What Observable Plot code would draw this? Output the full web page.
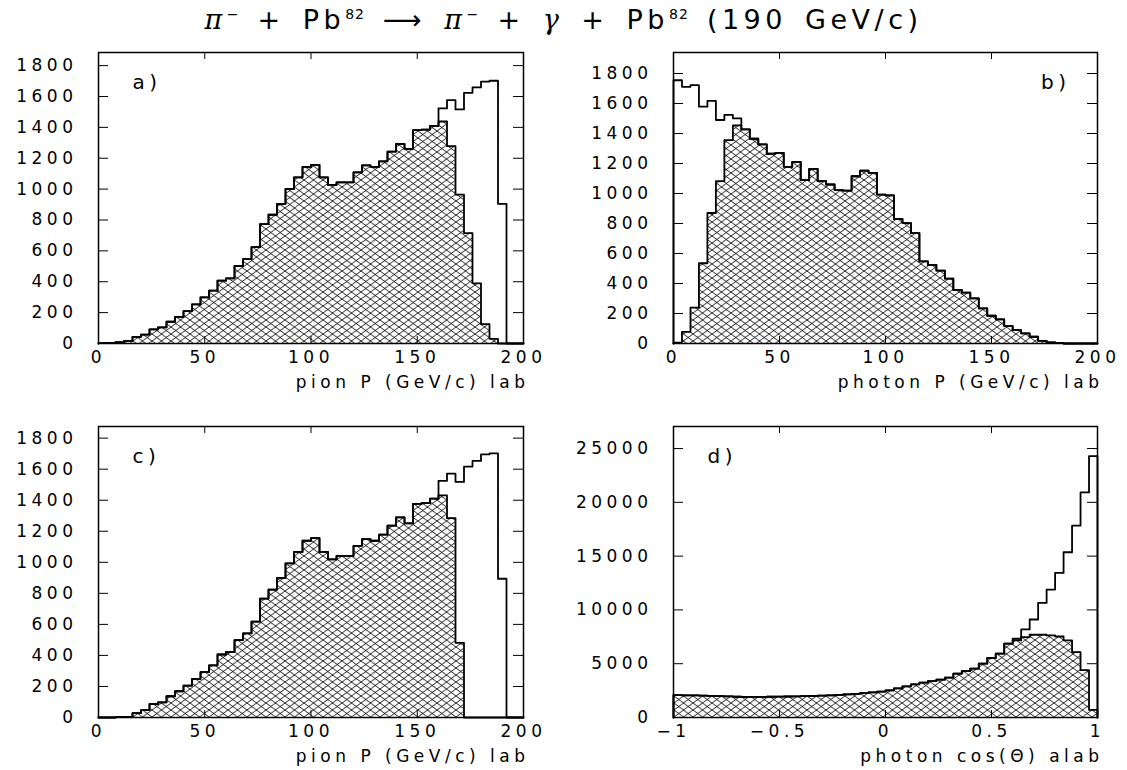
<!DOCTYPE html>
<html><head><meta charset="utf-8">
<script src="https://cdn.jsdelivr.net/npm/d3@7"></script>
<script src="https://cdn.jsdelivr.net/npm/@observablehq/plot@0.6"></script>
<style>
body{margin:0;background:#fff;}
#wrap{position:relative;width:1127px;height:770px;overflow:hidden;background:#fff;font-family:"DejaVu Sans",sans-serif;}
#title{position:absolute;left:0;width:1127px;top:4px;text-align:center;font-size:27px;letter-spacing:4.5px;word-spacing:5px;white-space:nowrap;color:#000;}
#title i{font-family:"DejaVu Serif",serif;font-style:italic;}
#title sup{font-size:14px;letter-spacing:1px;vertical-align:10px;}
.panel{position:absolute;}
</style></head>
<body>
<div id="wrap">
<svg width="0" height="0" style="position:absolute;left:0;top:0">
<defs><pattern id="hatch" patternUnits="userSpaceOnUse" width="9.5" height="7">
<path d="M-0.5,-0.37L10,7.37M-0.5,7.37L10,-0.37" stroke="#000" stroke-width="0.85" fill="none"/>
</pattern></defs></svg>
<div id="title"><i>π</i><sup>−</sup> + Pb<sup>82</sup> ⟶ <i>π</i><sup>−</sup> + <i>γ</i> + Pb<sup>82</sup> (190 GeV/c)</div>
<div id="pa" class="panel"></div><div id="pb" class="panel"></div>
<div id="pc" class="panel"></div><div id="pd" class="panel"></div>
</div>
<script>
// ---- data (4 GeV/c bins from 0 to 200; 0.04 bins from -1 to 1) ----
const momentumEdges = d3.range(0, 201, 4);
const cosEdges = d3.range(51).map(i => -1 + i * 0.04);

const pionAllA = [2,4,8,17,43,58,91,104,141,173,210,253,299,342,407,422,502,546,624,773,834,905,1001,1076,1144,1157,1076,1027,1044,1044,1109,1154,1144,1180,1243,1293,1261,1382,1386,1410,1523,1577,1516,1624,1659,1696,1702,905,0,0];
const pionCutA = [2,4,8,17,43,58,91,104,141,173,210,253,299,342,407,422,502,546,624,773,834,905,1001,1076,1144,1157,1076,1027,1044,1044,1109,1154,1144,1180,1243,1293,1261,1382,1386,1410,1438,1278,964,715,390,126,30,0,0,0];

const photonAllB = [1755,1711,1722,1579,1617,1490,1524,1501,1428,1365,1327,1265,1271,1178,1211,1089,1164,1082,1060,1022,1019,1115,1153,1138,993,988,830,803,736,547,524,486,433,357,339,301,234,185,161,116,89,67,45,18,7,4,0,0,0,0];
const photonCutB = [5,78,239,535,870,1082,1356,1454,1428,1365,1327,1265,1271,1178,1211,1089,1164,1082,1060,1022,1019,1115,1153,1138,993,988,830,803,736,547,524,486,433,357,339,301,234,185,161,116,89,67,45,18,7,4,0,0,0,0];

const pionAllC = [0,0,4,4,28,48,87,98,137,169,206,249,293,336,406,423,499,542,618,766,824,900,993,1067,1139,1156,1067,1019,1041,1041,1106,1149,1139,1178,1236,1290,1251,1377,1381,1410,1525,1572,1518,1616,1653,1696,1702,894,0,0];
const pionCutC = [0,0,4,4,28,48,87,98,137,169,206,249,293,336,406,423,499,542,618,766,824,900,993,1067,1139,1156,1067,1019,1041,1041,1106,1149,1139,1178,1236,1290,1251,1377,1381,1410,1431,1284,481,0,0,0,0,0,0,0];

const cosAllD = [2080,2060,2050,2030,2010,1990,1960,1930,1920,1910,1920,1930,1940,1950,1960,1980,2000,2030,2060,2100,2150,2200,2260,2330,2400,2530,2710,2900,3080,3240,3390,3520,3700,4070,4320,4540,5000,5530,5930,6860,7320,8190,9110,10660,11890,13440,15360,17830,20920,24300];
const cosCutD = [2080,2060,2050,2030,2010,1990,1960,1930,1920,1910,1920,1930,1940,1950,1960,1980,2000,2030,2060,2100,2150,2200,2260,2330,2400,2530,2710,2900,3080,3240,3390,3520,3700,4070,4320,4540,5000,5530,5930,6860,7165,7473,7690,7690,7630,7530,7165,6082,4400,700];

const momentumTicks = [0, 50, 100, 150, 200];
const cosTicks = [-1, -0.5, 0, 0.5, 1];
const countTicks = [0,200,400,600,800,1000,1200,1400,1600,1800];
const bigCountTicks = [0,5000,10000,15000,20000,25000];
const panelTags = ["a)", "b)", "c)", "d)"];
const axisTitles = ["pion P (GeV/c) lab", "photon P (GeV/c) lab", "pion P (GeV/c) lab", "photon cos(Θ) alab"];

// ---- helpers ----
const fmt = d => (d < 0 ? "−" : "") + String(Math.abs(d));

function stepPoints(edges, vals) {
  const pts = [{x: edges[0], y: 0}];
  vals.forEach((v, i) => pts.push({x: edges[i], y: v}));
  pts.push({x: edges[vals.length], y: vals[vals.length - 1]});
  pts.push({x: edges[vals.length], y: 0});
  return pts;
}

function panel(o) {
  const fw = o.width - o.mL - o.mR, fh = o.height - o.mT - o.mB;
  const inner = o.xTicks.slice(1, -1);
  const allPts = stepPoints(o.edges, o.all), cutPts = stepPoints(o.edges, o.cut);
  const tagMark = o.tagRight
    ? Plot.text([o.tag], {frameAnchor: "top-right", textAnchor: "end", lineAnchor: "top", dx: -27, dy: 22, fontSize: 20})
    : Plot.text([o.tag], {frameAnchor: "top-left", textAnchor: "start", lineAnchor: "top", dx: 34, dy: 22, fontSize: 20});
  const chart = Plot.plot({
    width: o.width, height: o.height,
    marginLeft: o.mL, marginRight: o.mR, marginTop: o.mT, marginBottom: o.mB,
    style: {fontFamily: "DejaVu Sans, sans-serif", fontSize: "17px", letterSpacing: "4.5px", color: "#000", background: "transparent", overflow: "visible"},
    x: {domain: o.xDomain},
    y: {domain: [0, o.yMax]},
    marks: [
      Plot.areaY(cutPts, {x: "x", y: "y", curve: "step-after", fill: "url(#hatch)"}),
      Plot.line(cutPts, {x: "x", y: "y", curve: "step-after", stroke: "#000", strokeWidth: 1.8}),
      Plot.line(allPts, {x: "x", y: "y", curve: "step-after", stroke: "#000", strokeWidth: 1.8}),
      Plot.tickY(o.yTicks, {y: d => d, insetRight: fw - 10, stroke: "#000", strokeWidth: 1}),
      Plot.tickY(o.yTicks, {y: d => d, insetLeft: fw - 10, stroke: "#000", strokeWidth: 1}),
      Plot.tickX(inner, {x: d => d, insetBottom: fh - 7, stroke: "#000", strokeWidth: 1}),
      Plot.tickX(inner, {x: d => d, insetTop: fh - 7, stroke: "#000", strokeWidth: 1}),
      Plot.axisY(o.yTicks, {anchor: "left", tickSize: 0, tickPadding: 21, label: null, tickFormat: fmt}),
      Plot.axisX(o.xTicks, {anchor: "bottom", tickSize: 0, tickPadding: 7, label: null, tickFormat: fmt}),
      Plot.text([o.xLabel], {frameAnchor: "bottom-right", textAnchor: "end", lineAnchor: "top", dy: 32, dx: 6}),
      tagMark,
      Plot.frame({stroke: "#000", strokeWidth: 1.5})
    ]
  });
  const el = document.getElementById(o.id);
  el.style.left = o.left + "px"; el.style.top = o.top + "px";
  el.appendChild(chart);
}

const topRow = {top: 40, height: 355, mT: 12, mB: 52};
const botRow = {top: 395, height: 375, mT: 31, mB: 53};
const leftCol = {left: 0, width: 560, mL: 98, mR: 37};
const rightCol = {left: 560, width: 567, mL: 113, mR: 30};

panel({id: "pa", ...topRow, ...leftCol, xDomain: [0, 200], yMax: 1885, xTicks: momentumTicks, yTicks: countTicks,
  edges: momentumEdges, all: pionAllA, cut: pionCutA, xLabel: axisTitles[0], tag: panelTags[0]});
panel({id: "pb", ...topRow, ...rightCol, xDomain: [0, 200], yMax: 1940, xTicks: momentumTicks, yTicks: countTicks,
  edges: momentumEdges, all: photonAllB, cut: photonCutB, xLabel: axisTitles[1], tag: panelTags[1], tagRight: true});
panel({id: "pc", ...botRow, ...leftCol, xDomain: [0, 200], yMax: 1875, xTicks: momentumTicks, yTicks: countTicks,
  edges: momentumEdges, all: pionAllC, cut: pionCutC, xLabel: axisTitles[2], tag: panelTags[2]});
panel({id: "pd", ...botRow, ...rightCol, xDomain: [-1, 1], yMax: 27050, xTicks: cosTicks, yTicks: bigCountTicks,
  edges: cosEdges, all: cosAllD, cut: cosCutD, xLabel: axisTitles[3], tag: panelTags[3]});
</script>
</body></html>
